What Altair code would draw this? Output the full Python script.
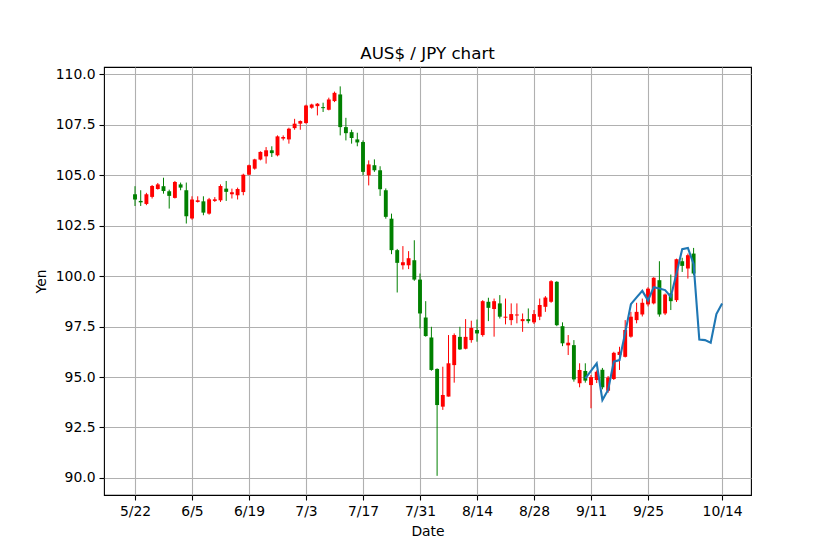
import altair as alt
import pandas as pd

opens = [104.06,103.73,103.58,103.93,104.32,104.46,104.21,103.88,104.55,104.26,
         102.86,103.68,103.71,103.10,103.73,103.76,104.34,104.06,104.01,104.17,
         105.03,105.33,105.78,105.94,106.24,105.99,106.82,106.78,107.34,107.56,
         107.59,108.35,108.43,108.38,108.25,108.68,109.01,107.39,107.14,106.78,
         106.65,105.00,105.50,105.25,104.26,102.85,101.29,100.54,100.54,100.79,
         99.83,97.95,96.96,95.40,93.53,94.03,95.59,96.99,96.40,96.83,
         97.33,97.08,98.73,98.37,98.65,97.94,97.82,98.05,97.77,97.87,
         97.71,97.99,98.48,98.73,99.72,97.52,96.57,96.58,94.69,95.30,
         94.60,94.85,95.36,94.32,94.90,96.09,96.00,97.00,97.82,98.10,
         98.60,98.65,99.80,98.15,99.14,98.81,100.74,100.38,101.12]
highs = [104.46,104.26,104.13,104.52,104.62,104.88,104.29,104.72,104.64,104.64,
         103.96,103.96,103.96,103.88,103.92,104.55,104.72,104.34,104.39,105.08,
         105.53,105.82,106.19,106.40,106.44,106.98,106.98,107.36,107.80,107.72,
         108.50,108.55,108.58,108.60,108.85,109.15,109.41,107.85,107.26,107.11,
         106.73,105.74,105.79,105.45,104.35,103.10,101.35,101.49,101.24,101.78,
         100.13,98.76,97.49,95.43,95.51,97.08,97.16,97.49,97.87,97.79,
         97.85,98.81,98.93,98.89,99.06,98.89,98.65,98.65,98.15,98.40,
         98.32,98.89,99.01,99.80,99.75,97.71,97.08,96.83,95.68,95.68,
         95.10,95.33,95.45,95.05,96.25,96.50,97.82,98.23,98.68,98.89,
         99.45,99.95,100.74,99.14,100.08,100.87,100.91,101.12,101.40]
lows = [103.48,103.48,103.52,103.85,104.29,104.09,103.35,103.85,104.26,102.61,
        102.80,103.65,103.02,103.05,103.68,103.68,103.73,103.85,103.80,104.01,
        105.00,105.28,105.74,105.58,105.91,105.94,106.73,106.57,107.26,107.26,
        107.56,108.30,107.97,108.14,108.22,108.63,106.98,106.73,106.57,106.44,
        105.00,104.50,105.17,103.98,102.85,101.09,99.19,100.33,100.35,99.77,
        97.41,97.00,95.31,90.10,93.37,94.03,94.72,96.34,96.37,96.70,
        96.75,97.00,97.77,97.00,97.90,97.61,97.57,97.66,97.24,97.66,
        97.63,97.82,98.23,98.68,97.52,96.53,96.09,94.77,94.49,94.72,
        93.45,94.70,94.39,94.22,94.85,95.35,95.97,96.95,97.66,98.00,
        98.50,98.60,97.99,98.07,98.32,98.72,100.21,99.88,100.05]
closes = [103.80,103.66,104.06,104.47,104.55,104.22,103.98,104.67,104.39,102.97,
          103.80,103.76,103.15,103.81,103.81,104.47,104.18,104.16,104.32,105.03,
          105.50,105.79,106.16,106.24,106.10,106.93,106.90,107.31,107.56,107.69,
          108.46,108.51,108.55,108.33,108.76,109.09,107.39,107.09,106.85,106.63,
          105.17,105.54,105.25,104.31,102.94,101.29,100.66,100.69,100.89,99.83,
          98.15,97.03,95.35,93.61,94.11,95.68,97.08,96.37,96.99,97.43,
          97.16,98.76,98.43,98.76,97.99,97.99,98.12,98.10,97.87,97.77,
          98.12,98.57,98.94,99.75,97.57,96.67,96.70,94.88,95.35,94.82,
          95.00,95.26,94.49,94.97,96.20,96.25,97.33,97.99,98.23,98.68,
          99.38,99.92,98.10,99.09,98.76,100.84,100.51,101.04,100.13]

pred_x = list(range(79, 104))
pred_y = [94.93,95.30,95.68,93.86,94.36,95.76,95.84,97.20,98.61,98.95,
          99.27,98.80,99.45,99.39,99.31,98.98,100.13,101.34,101.40,100.60,
          96.86,96.83,96.70,98.12,98.65]

tick_pos = [0, 10, 20, 30, 40, 50, 60, 70, 80, 90, 103]
tick_lab = ["5/22", "6/5", "6/19", "7/3", "7/17", "7/31", "8/14", "8/28", "9/11", "9/25", "10/14"]

df = pd.DataFrame({"t": list(range(len(opens))), "open": opens, "high": highs,
                   "low": lows, "close": closes})
df["dir"] = ["up" if c >= o else "down" for o, c in zip(opens, closes)]
pred = pd.DataFrame({"t": pred_x, "v": pred_y})

expr = "''"
for p, l in reversed(list(zip(tick_pos, tick_lab))):
    expr = f"datum.value == {p} ? '{l}' : ({expr})"

FONT = "DejaVu Sans"
xs = alt.Scale(domain=[-5.44, 108.07], nice=False, zero=False, padding=0)
ys = alt.Scale(domain=[89.15, 110.37], nice=False, zero=False, padding=0)
col = alt.Color("dir:N", scale=alt.Scale(domain=["up", "down"], range=["#ff0000", "#008000"]), legend=None)

xax = alt.Axis(values=tick_pos, labelExpr=expr, title="Date", grid=True)
yax = alt.Axis(values=[90 + 2.5 * i for i in range(9)], format=".1f", title="Yen", grid=True)

base = alt.Chart(df)
wick = base.mark_rule(strokeWidth=1).encode(
    x=alt.X("t:Q", scale=xs, axis=xax),
    y=alt.Y("low:Q", scale=ys, axis=yax),
    y2="high:Q", color=col)
body = base.mark_bar(size=3.9).encode(
    x=alt.X("t:Q", scale=xs),
    y=alt.Y("open:Q", scale=ys),
    y2="close:Q", color=col)
line = alt.Chart(pred).mark_line(color="#1f77b4", strokeWidth=2.1).encode(
    x=alt.X("t:Q", scale=xs), y=alt.Y("v:Q", scale=ys))

chart = alt.layer(wick, body, line).properties(
    width=647, height=428,
    background="white",
    title=alt.TitleParams("AUS$ / JPY chart", font=FONT, fontSize=16.7, fontWeight="normal",
                          color="black", offset=4),
    autosize=alt.AutoSizeParams(type="none"),
    padding={"left": 104, "top": 67, "right": 83, "bottom": 61},
).configure_view(stroke="black", strokeWidth=1.1).configure_axis(
    domain=False, gridColor="#b0b0b0", gridWidth=1.1, tickColor="black", tickSize=5,
    tickWidth=1.1, labelFont=FONT, labelFontSize=13.9, labelColor="black", labelPadding=4,
    titleFont=FONT, titleFontSize=13.9, titleFontWeight="normal", titleColor="black",
).configure_axisX(titlePadding=7).configure_axisY(titlePadding=7)

chart.save("out.html", embed_options={"renderer": "svg", "actions": False})
